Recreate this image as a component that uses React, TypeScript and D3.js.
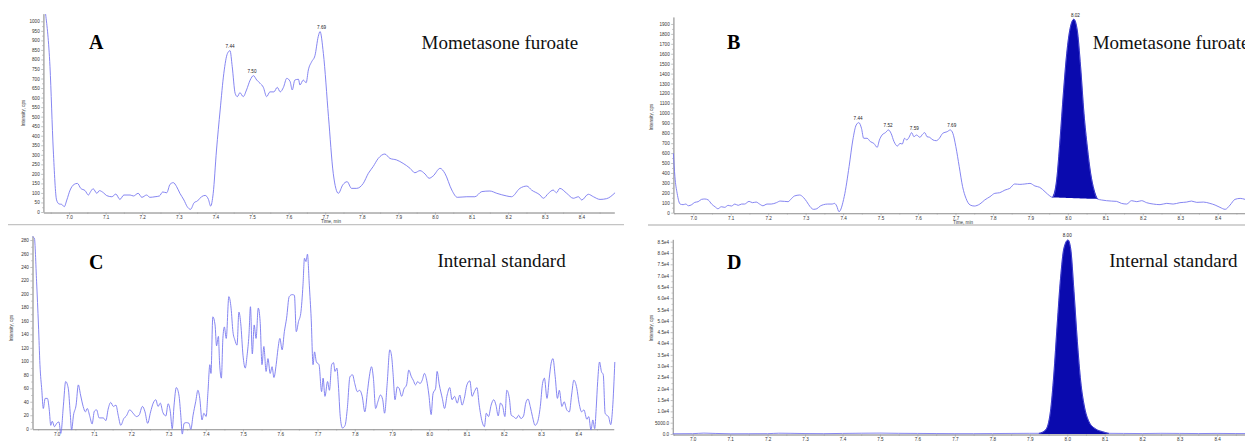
import React, { useEffect, useRef } from 'react';
import * as d3 from 'd3';

// retention time ticks shared by every trace
const timeTicks = [7.0, 7.1, 7.2, 7.3, 7.4, 7.5, 7.6, 7.7, 7.8, 7.9, 8.0, 8.1, 8.2, 8.3, 8.4];
const timeMinor = [6.95, 7.05, 7.15, 7.25, 7.35, 7.45, 7.55, 7.65, 7.75, 7.85, 7.95, 8.05, 8.15, 8.25, 8.35, 8.45];

// A - mometasone furoate, blank
const aTime = [6.936, 6.948, 6.957, 6.966, 6.973, 6.98, 6.987, 6.994, 7.003, 7.014, 7.023, 7.032, 7.044, 7.053, 7.059, 7.066, 7.076, 7.083, 7.094, 7.103, 7.117, 7.128, 7.139, 7.15, 7.167, 7.176, 7.189, 7.199, 7.212, 7.221, 7.235, 7.247, 7.256, 7.267, 7.276, 7.285, 7.294, 7.303, 7.314, 7.323, 7.332, 7.342, 7.351, 7.362, 7.372, 7.381, 7.387, 7.394, 7.403, 7.413, 7.423, 7.433, 7.44, 7.446, 7.454, 7.46, 7.467, 7.476, 7.485, 7.495, 7.504, 7.513, 7.522, 7.531, 7.54, 7.549, 7.56, 7.569, 7.577, 7.586, 7.595, 7.604, 7.61, 7.617, 7.627, 7.631, 7.64, 7.648, 7.654, 7.663, 7.672, 7.681, 7.686, 7.695, 7.709, 7.722, 7.736, 7.748, 7.76, 7.772, 7.786, 7.804, 7.818, 7.831, 7.845, 7.863, 7.877, 7.895, 7.913, 7.932, 7.945, 7.959, 7.973, 7.984, 7.995, 8.014, 8.027, 8.046, 8.061, 8.087, 8.109, 8.128, 8.15, 8.169, 8.196, 8.209, 8.232, 8.251, 8.264, 8.287, 8.296, 8.31, 8.323, 8.332, 8.341, 8.36, 8.378, 8.392, 8.401, 8.419, 8.433, 8.451, 8.469, 8.492];
const aInt = [1038, 762, 325, 63, 42, 40, 28, 63, 115, 145, 150, 124, 112, 89, 107, 122, 98, 112, 101, 86, 80, 94, 66, 89, 89, 84, 98, 77, 89, 77, 80, 84, 105, 101, 145, 154, 133, 98, 63, 28, 14, 49, 58, 80, 87, 66, 31, 98, 325, 535, 727, 832, 846, 762, 622, 605, 626, 605, 640, 692, 715, 692, 675, 654, 605, 630, 630, 654, 630, 654, 701, 685, 640, 692, 696, 666, 692, 678, 745, 788, 820, 920, 946, 832, 500, 203, 98, 142, 159, 124, 124, 150, 203, 238, 281, 304, 281, 273, 255, 229, 206, 217, 199, 177, 189, 229, 203, 115, 77, 80, 80, 107, 110, 98, 84, 80, 124, 136, 115, 89, 72, 98, 115, 101, 124, 98, 72, 80, 63, 93, 80, 66, 70, 101];
const aTicks = [0, 50, 100, 150, 200, 250, 300, 350, 400, 450, 500, 550, 600, 650, 700, 750, 800, 850, 900, 950, 1000];
const aPeakTime = [7.44, 7.5, 7.69];
const aPeakInt = [846, 715, 946];

// B - mometasone furoate, sample
const bTime = [6.947, 6.951, 6.957, 6.965, 6.973, 6.98, 6.987, 6.996, 7.004, 7.013, 7.022, 7.031, 7.04, 7.049, 7.058, 7.066, 7.075, 7.084, 7.093, 7.102, 7.111, 7.12, 7.129, 7.137, 7.149, 7.158, 7.168, 7.177, 7.186, 7.197, 7.208, 7.222, 7.232, 7.244, 7.253, 7.262, 7.27, 7.284, 7.294, 7.303, 7.312, 7.321, 7.33, 7.339, 7.348, 7.359, 7.371, 7.377, 7.383, 7.389, 7.403, 7.416, 7.426, 7.435, 7.442, 7.449, 7.455, 7.464, 7.473, 7.482, 7.491, 7.497, 7.504, 7.513, 7.521, 7.528, 7.536, 7.545, 7.552, 7.558, 7.564, 7.57, 7.576, 7.583, 7.589, 7.596, 7.605, 7.612, 7.618, 7.624, 7.631, 7.64, 7.649, 7.657, 7.666, 7.678, 7.686, 7.693, 7.701, 7.71, 7.719, 7.728, 7.739, 7.75, 7.765, 7.778, 7.792, 7.805, 7.818, 7.832, 7.845, 7.858, 7.872, 7.885, 7.899, 7.912, 7.925, 7.939, 7.952, 7.959, 7.97, 7.979, 7.988, 7.997, 8.006, 8.016, 8.025, 8.034, 8.043, 8.052, 8.061, 8.07, 8.079, 8.09, 8.103, 8.116, 8.13, 8.143, 8.157, 8.17, 8.184, 8.197, 8.21, 8.228, 8.246, 8.264, 8.281, 8.299, 8.317, 8.33, 8.344, 8.362, 8.379, 8.393, 8.406, 8.42, 8.433, 8.446, 8.46, 8.473];
const bInt = [598, 363, 195, 87, 81, 87, 70, 81, 104, 111, 134, 138, 128, 87, 60, 40, 60, 54, 74, 67, 87, 74, 87, 87, 114, 101, 107, 87, 70, 87, 87, 101, 117, 114, 111, 141, 168, 178, 154, 111, 60, 34, 40, 67, 81, 87, 87, 94, 67, 10, 162, 464, 732, 883, 907, 850, 749, 749, 715, 698, 658, 732, 782, 806, 833, 799, 715, 671, 698, 691, 749, 732, 759, 806, 765, 782, 759, 789, 806, 765, 759, 732, 725, 749, 799, 816, 833, 799, 665, 464, 262, 145, 78, 67, 87, 128, 161, 195, 201, 228, 245, 289, 285, 289, 295, 269, 255, 211, 168, 154, 329, 732, 1202, 1605, 1856, 1947, 1840, 1470, 1000, 661, 393, 228, 138, 128, 121, 117, 114, 94, 87, 121, 111, 121, 101, 87, 81, 94, 87, 101, 107, 117, 104, 107, 94, 77, 54, 34, 77, 134, 144, 134];
const bTicks = [0, 100, 200, 300, 400, 500, 600, 700, 800, 900, 1000, 1100, 1200, 1300, 1400, 1500, 1600, 1700, 1800, 1900];
const bPeakTime = [7.44, 7.52, 7.59, 7.69, 8.02];
const bPeakInt = [907, 833, 806, 833, 1947];
const bFill = [7.959, 8.079];

// C - internal standard, blank
const cTime = [6.935, 6.94, 6.946, 6.951, 6.955, 6.96, 6.964, 6.969, 6.975, 6.98, 6.984, 6.988, 6.994, 7.0, 7.006, 7.011, 7.018, 7.024, 7.031, 7.036, 7.04, 7.045, 7.052, 7.058, 7.064, 7.071, 7.077, 7.082, 7.089, 7.095, 7.101, 7.107, 7.114, 7.125, 7.132, 7.138, 7.145, 7.152, 7.159, 7.165, 7.172, 7.18, 7.187, 7.196, 7.205, 7.214, 7.221, 7.23, 7.237, 7.244, 7.252, 7.259, 7.266, 7.272, 7.278, 7.285, 7.293, 7.299, 7.305, 7.31, 7.315, 7.321, 7.328, 7.333, 7.337, 7.342, 7.348, 7.355, 7.36, 7.366, 7.373, 7.379, 7.384, 7.39, 7.395, 7.401, 7.406, 7.411, 7.414, 7.419, 7.425, 7.429, 7.434, 7.437, 7.442, 7.446, 7.45, 7.455, 7.462, 7.468, 7.473, 7.478, 7.484, 7.489, 7.494, 7.5, 7.506, 7.511, 7.516, 7.52, 7.525, 7.53, 7.535, 7.541, 7.546, 7.551, 7.556, 7.562, 7.567, 7.573, 7.578, 7.583, 7.589, 7.594, 7.599, 7.605, 7.611, 7.617, 7.624, 7.632, 7.638, 7.643, 7.649, 7.655, 7.661, 7.665, 7.669, 7.673, 7.678, 7.683, 7.688, 7.692, 7.697, 7.704, 7.711, 7.715, 7.72, 7.727, 7.732, 7.738, 7.743, 7.747, 7.752, 7.756, 7.761, 7.767, 7.774, 7.78, 7.787, 7.794, 7.8, 7.807, 7.813, 7.82, 7.827, 7.834, 7.839, 7.845, 7.85, 7.856, 7.862, 7.869, 7.875, 7.88, 7.887, 7.894, 7.899, 7.903, 7.908, 7.914, 7.919, 7.926, 7.932, 7.939, 7.945, 7.952, 7.957, 7.963, 7.969, 7.975, 7.981, 7.987, 7.993, 7.999, 8.005, 8.01, 8.017, 8.021, 8.027, 8.035, 8.041, 8.048, 8.055, 8.061, 8.068, 8.075, 8.082, 8.088, 8.094, 8.101, 8.109, 8.115, 8.121, 8.128, 8.134, 8.142, 8.148, 8.153, 8.159, 8.166, 8.173, 8.179, 8.185, 8.191, 8.197, 8.203, 8.208, 8.215, 8.22, 8.226, 8.233, 8.24, 8.246, 8.253, 8.259, 8.265, 8.271, 8.277, 8.284, 8.29, 8.298, 8.304, 8.309, 8.316, 8.322, 8.327, 8.332, 8.338, 8.344, 8.349, 8.356, 8.362, 8.369, 8.376, 8.382, 8.388, 8.396, 8.402, 8.409, 8.415, 8.423, 8.428, 8.434, 8.439, 8.444, 8.448, 8.452, 8.457, 8.462, 8.467, 8.472, 8.476, 8.481, 8.487, 8.492, 8.498];
const cInt = [285, 283, 218, 154, 95, 57, 30, 45, 45, 28, 5, 11, 3, 8, 10, -7, 35, 70, 60, 25, -2, 20, 35, 65, 50, 33, 25, 30, 18, 7, 26, 28, 16, 16, 12, 29, 39, 33, 35, 20, 5, 15, 19, 28, 23, 18, 20, 33, 25, 8, 25, 38, 43, 33, 38, 24, 19, 37, 25, 0, 35, 61, 50, 20, -8, 8, 9, 8, -1, 20, 40, 57, 45, 13, 23, 18, 55, 95, 82, 166, 154, 123, 137, 99, 75, 134, 151, 134, 196, 179, 144, 132, 124, 173, 156, 109, 90, 109, 139, 181, 111, 154, 134, 179, 159, 95, 122, 85, 104, 82, 92, 76, 95, 119, 134, 117, 144, 164, 196, 199, 198, 144, 159, 171, 213, 253, 248, 259, 213, 164, 95, 114, 99, 95, 55, 75, 48, 70, 57, 95, 98, 85, 90, 65, 18, 1, 5, 30, 77, 80, 67, 55, 57, 48, 25, 55, 77, 92, 75, 30, 40, 50, 43, 23, 67, 117, 107, 80, 43, 62, 60, 48, 59, 65, 87, 77, 72, 65, 70, 67, 72, 82, 72, 50, 21, 52, 60, 85, 65, 45, 30, 50, 61, 43, 48, 38, 50, 35, 45, 65, 71, 48, 55, 61, 35, 10, 3, 23, 18, 35, 43, 35, 19, 38, 33, 18, 57, 45, 20, 18, 15, 20, 15, 19, 38, 44, 33, 18, 5, 9, 33, 67, 75, 45, 75, 97, 104, 77, 45, 57, 33, 40, 28, 25, 50, 72, 60, 38, 25, 28, 14, 18, -2, 13, 0, 30, 70, 99, 85, 80, 23, 20, 18, 6, 30, 99];
const cTicks = [0, 20, 40, 60, 80, 100, 120, 140, 160, 180, 200, 220, 240, 260, 280];

// D - internal standard, sample
const dTime = [6.947, 7.0, 7.03, 7.06, 7.1, 7.15, 7.2, 7.23, 7.26, 7.3, 7.35, 7.4, 7.45, 7.5, 7.55, 7.6, 7.65, 7.7, 7.75, 7.8, 7.85, 7.9, 7.924, 7.942, 7.955, 7.964, 7.973, 7.982, 7.991, 8.002, 8.009, 8.018, 8.027, 8.036, 8.045, 8.058, 8.076, 8.094, 8.111, 8.15, 8.2, 8.25, 8.3, 8.35, 8.4, 8.45, 8.5];
const dInt = [100, 150, 400, 250, 100, 120, 150, 350, 300, 200, 150, 250, 350, 400, 300, 250, 200, 150, 150, 200, 250, 300, 300, 1768, 9870, 26080, 48180, 68800, 82070, 85750, 82070, 62900, 40800, 23130, 12820, 5450, 2210, 1030, 300, 250, 200, 300, 250, 200, 250, 200, 150];
const dTicks = [0, 5000, 10000, 15000, 20000, 25000, 30000, 35000, 40000, 45000, 50000, 55000, 60000, 65000, 70000, 75000, 80000, 85000];
const dTickLabels = ['0.0', '5000.0', '1.0e4', '1.5e4', '2.0e4', '2.5e4', '3.0e4', '3.5e4', '4.0e4', '4.5e4', '5.0e4', '5.5e4', '6.0e4', '6.5e4', '7.0e4', '7.5e4', '8.0e4', '8.5e4'];
const dPeakTime = [8.0];
const dPeakInt = [85750];
const dFill = [7.924, 8.111];

const LINE = '#7878ef';
const FILL = '#0a0aae';

function drawPanel(svg, p) {
  const x = d3.scaleLinear().domain(p.xDomain).range(p.xRange);
  const y = d3.scaleLinear().domain(p.yDomain).range(p.yRange);
  const g = svg.append('g');

  // y axis + minor ticks
  const yMinor = p.yTicks.slice(0, -1).map((v, i) => (v + p.yTicks[i + 1]) / 2);
  g.append('g')
    .attr('transform', `translate(${p.xRange[0]},0)`)
    .call(d3.axisLeft(y).tickValues(yMinor).tickSize(1.3).tickSizeOuter(0).tickFormat(() => ''));
  g.append('g')
    .attr('transform', `translate(${p.xRange[0]},0)`)
    .call(d3.axisLeft(y).tickValues(p.yTicks).tickSize(2.2).tickSizeOuter(0).tickPadding(1.5)
      .tickFormat((d, i) => (p.yLabels ? p.yLabels[i] : String(d))));

  // x axis
  const xb = p.yRange[0] + 0.5;
  g.append('g')
    .attr('transform', `translate(0,${xb})`)
    .call(d3.axisBottom(x).tickValues(timeMinor).tickSize(1.3).tickSizeOuter(0).tickFormat(() => ''));
  g.append('g')
    .attr('transform', `translate(0,${xb})`)
    .call(d3.axisBottom(x).tickValues(timeTicks).tickSize(2.2).tickSizeOuter(0).tickPadding(1)
      .tickFormat(d3.format('.1f')));

  g.selectAll('.domain').attr('stroke', '#9a9a9a').attr('stroke-width', 0.8);
  g.selectAll('.tick line').attr('stroke', '#9a9a9a').attr('stroke-width', 0.6);
  g.selectAll('.tick text').attr('fill', '#333').attr('font-size', 4.6).attr('font-family', 'Arial, Liberation Sans');

  const pts = p.time.map((t, i) => [t, p.inten[i]]);

  // filled integrated peak
  if (p.fill) {
    const [f0, f1] = p.fill;
    const inside = pts.filter(d => d[0] >= f0 - 1e-9 && d[0] <= f1 + 1e-9);
    const v0 = inside[0][1];
    const v1 = inside[inside.length - 1][1];
    const base = t => (p.fillToZero ? 0 : v0 + (v1 - v0) * (t - f0) / (f1 - f0));
    const area = d3.area()
      .x(d => x(d[0]))
      .y0(d => y(base(d[0])))
      .y1(d => y(d[1]))
      .curve(d3.curveMonotoneX);
    g.append('path').attr('d', area(inside)).attr('fill', FILL);
  }

  const line = d3.line().x(d => x(d[0])).y(d => y(d[1])).curve(d3.curveMonotoneX);
  g.append('path')
    .attr('d', line(pts))
    .attr('fill', 'none')
    .attr('stroke', LINE)
    .attr('stroke-width', 0.9);

  // re-draw the peak outline in fill colour so it stays solid
  if (p.fill) {
    const [f0, f1] = p.fill;
    const inside = pts.filter(d => d[0] >= f0 - 1e-9 && d[0] <= f1 + 1e-9);
    g.append('path')
      .attr('d', line(inside))
      .attr('fill', 'none')
      .attr('stroke', FILL)
      .attr('stroke-width', 0.6);
  }

  // peak apex labels
  g.selectAll('.pk')
    .data(p.peakTime)
    .enter()
    .append('text')
    .attr('x', d => x(d))
    .attr('y', (d, i) => y(p.peakInt[i]) - 2.5)
    .attr('text-anchor', 'middle')
    .attr('font-size', 4.6)
    .attr('font-family', 'Arial, Liberation Sans')
    .attr('fill', '#222')
    .text(d => d.toFixed(2));

  // axis titles
  g.append('text')
    .attr('transform', `translate(${p.yTitle[0]},${p.yTitle[1]}) rotate(-90)`)
    .attr('text-anchor', 'middle')
    .attr('font-size', 4.6)
    .attr('font-family', 'Arial, Liberation Sans')
    .attr('fill', '#333')
    .text('Intensity, cps');
  if (p.xTitle) {
    g.append('text')
      .attr('x', p.xTitle[0])
      .attr('y', p.xTitle[1])
      .attr('text-anchor', 'middle')
      .attr('font-size', 4.6)
      .attr('font-family', 'Arial, Liberation Sans')
      .attr('fill', '#333')
      .text('Time, min');
  }

  // panel letter + compound name
  g.append('text')
    .attr('x', p.letterPos[0])
    .attr('y', p.letterPos[1])
    .attr('font-family', 'Liberation Serif, Times New Roman, serif')
    .attr('font-weight', 'bold')
    .attr('font-size', 20)
    .attr('fill', '#000')
    .text(p.letter);
  g.append('text')
    .attr('x', p.namePos[0])
    .attr('y', p.namePos[1])
    .attr('font-family', 'Liberation Serif, Times New Roman, serif')
    .attr('font-size', 19)
    .attr('fill', '#111')
    .text(p.name);
}

export default function App() {
  const ref = useRef(null);

  useEffect(() => {
    const svg = d3.select(ref.current);
    svg.selectAll('*').remove();

    svg.append('rect').attr('width', 1245).attr('height', 441).attr('fill', '#fff');

    // separators between upper and lower traces
    svg.append('line').attr('x1', 8).attr('x2', 624).attr('y1', 224.6).attr('y2', 224.6)
      .attr('stroke', '#c4c4c4').attr('stroke-width', 1.4);
    svg.append('line').attr('x1', 648).attr('x2', 1245).attr('y1', 225).attr('y2', 225)
      .attr('stroke', '#c4c4c4').attr('stroke-width', 1.4);

    drawPanel(svg, {
      time: aTime, inten: aInt, yTicks: aTicks,
      xDomain: [6.93, 8.49], xRange: [43.4, 614.3],
      yDomain: [0, 1040], yRange: [212, 13.7],
      peakTime: aPeakTime, peakInt: aPeakInt,
      yTitle: [25, 113], xTitle: [331, 223.4],
      letter: 'A', letterPos: [89, 49], name: 'Mometasone furoate', namePos: [421.5, 49.3],
    });
    drawPanel(svg, {
      time: cTime, inten: cInt, yTicks: cTicks,
      xDomain: [6.935, 8.495], xRange: [32.5, 613.7],
      yDomain: [0, 286], yRange: [428.7, 236],
      peakTime: [], peakInt: [],
      yTitle: [12.5, 328],
      letter: 'C', letterPos: [89, 269.3], name: 'Internal standard', namePos: [437.5, 267.3],
    });
    drawPanel(svg, {
      time: bTime, inten: bInt, yTicks: bTicks,
      xDomain: [6.947, 8.55], xRange: [673.4, 1273.9],
      yDomain: [0, 1970], yRange: [212.7, 17],
      peakTime: bPeakTime, peakInt: bPeakInt, fill: bFill,
      yTitle: [653, 117], xTitle: [963, 223.6],
      letter: 'B', letterPos: [727, 49.3], name: 'Mometasone furoate', namePos: [1092.7, 49],
    });
    drawPanel(svg, {
      time: dTime, inten: dInt, yTicks: dTicks, yLabels: dTickLabels,
      xDomain: [6.947, 8.55], xRange: [672.8, 1273.3],
      yDomain: [0, 86000], yRange: [434, 239.4],
      peakTime: dPeakTime, peakInt: dPeakInt, fill: dFill, fillToZero: true,
      yTitle: [653, 328],
      letter: 'D', letterPos: [727, 269.3], name: 'Internal standard', namePos: [1109.3, 266.7],
    });
  }, []);

  return (
    <svg
      ref={ref}
      width={1245}
      height={441}
      style={{ position: 'absolute', left: 0, top: 0, display: 'block' }}
    />
  );
}
